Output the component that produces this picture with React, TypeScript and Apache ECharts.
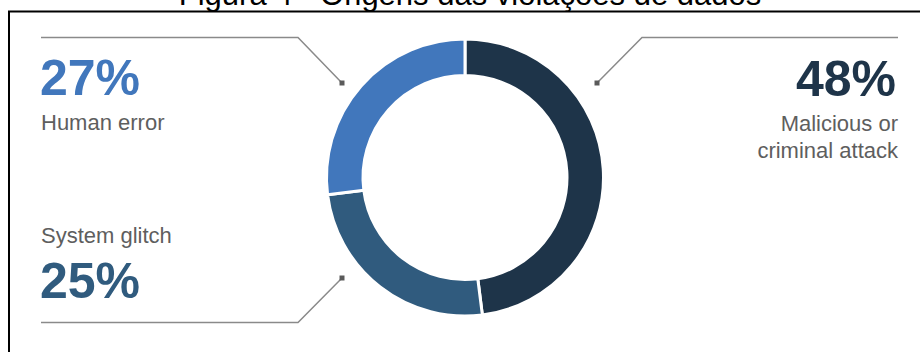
import React, { useEffect, useRef } from "react";
import * as echarts from "echarts";

const title = "Figura 4 - Origens das violações de dados";
const categories = ["Malicious or criminal attack", "System glitch", "Human error"];
const values = [48, 25, 27];
const sliceColors = ["#1e3449", "#305b7e", "#4177bc"];
const labelLines: Record<string, string[]> = {
  "Malicious or criminal attack": ["Malicious or", "criminal attack"],
  "System glitch": ["System glitch"],
  "Human error": ["Human error"],
};

export default function App() {
  const ref = useRef<HTMLDivElement>(null);
  useEffect(() => {
    if (!ref.current) return;
    const chart = echarts.init(ref.current, undefined, { renderer: "svg" });
    const pct = (name: string) => values[categories.indexOf(name)] + "%";
    const col = (name: string) => sliceColors[categories.indexOf(name)];
    const lineColor = "#8a8a8a";
    const markerColor = "#5a5a5a";
    const grey = "#5e5e5e";
    const pctFont = { fontSize: 50, fontWeight: "bold" as const, fontFamily: "Liberation Sans, Arial, sans-serif" };
    const subFont = { fontSize: 22, fontWeight: "normal" as const, fontFamily: "Liberation Sans, Arial, sans-serif" };
    const marker = (x: number, y: number) => ({
      type: "rect",
      shape: { x: x - 2.5, y: y - 2.5, width: 5, height: 5 },
      style: { fill: markerColor },
      z: 10,
    });
    chart.setOption({
      animation: false,
      backgroundColor: "#ffffff",
      series: [
        {
          type: "pie",
          center: [465, 177.5],
          radius: [102, 138.5],
          startAngle: 90,
          clockwise: true,
          label: { show: false },
          labelLine: { show: false },
          emphasis: { disabled: true },
          itemStyle: { borderColor: "#ffffff", borderWidth: 3 },
          data: categories.map((c, i) => ({ name: c, value: values[i], itemStyle: { color: sliceColors[i] } })),
        },
      ],
      graphic: [
        {
          type: "text",
          x: 470,
          y: 10,
          style: {
            text: title,
            fontSize: 31,
            fontFamily: "Liberation Sans, Arial, sans-serif",
            fill: "#000000",
            align: "center",
            verticalAlign: "bottom",
          },
        },
        {
          type: "rect",
          shape: { x: 9, y: 11.5, width: 940, height: 400 },
          style: { fill: "none", stroke: "#000000", lineWidth: 2 },
        },
        // leader lines
        { type: "polyline", shape: { points: [[41, 37.5], [298, 37.5], [342, 83]] }, style: { stroke: lineColor, lineWidth: 1.5, fill: "none" } },
        { type: "polyline", shape: { points: [[597, 83], [642, 37.5], [898, 37.5]] }, style: { stroke: lineColor, lineWidth: 1.5, fill: "none" } },
        { type: "polyline", shape: { points: [[41, 322.5], [298, 322.5], [342, 278]] }, style: { stroke: lineColor, lineWidth: 1.5, fill: "none" } },
        marker(342, 83),
        marker(597, 83),
        marker(342, 278),
        // Human error
        { type: "text", x: 40, y: 78, style: { text: pct("Human error"), ...pctFont, fill: col("Human error"), align: "left", verticalAlign: "middle" } },
        { type: "text", x: 41, y: 122, style: { text: labelLines["Human error"][0], ...subFont, fill: grey, align: "left", verticalAlign: "middle" } },
        // Malicious
        { type: "text", x: 896, y: 79, style: { text: pct("Malicious or criminal attack"), ...pctFont, fill: col("Malicious or criminal attack"), align: "right", verticalAlign: "middle" } },
        { type: "text", x: 898, y: 123, style: { text: labelLines["Malicious or criminal attack"][0], ...subFont, fill: grey, align: "right", verticalAlign: "middle" } },
        { type: "text", x: 898, y: 150, style: { text: labelLines["Malicious or criminal attack"][1], ...subFont, fill: grey, align: "right", verticalAlign: "middle" } },
        // System glitch
        { type: "text", x: 41, y: 235, style: { text: labelLines["System glitch"][0], ...subFont, fill: grey, align: "left", verticalAlign: "middle" } },
        { type: "text", x: 40, y: 280.5, style: { text: pct("System glitch"), ...pctFont, fill: col("System glitch"), align: "left", verticalAlign: "middle" } },
      ],
    });
    return () => chart.dispose();
  }, []);
  return <div ref={ref} style={{ position: "absolute", left: 0, top: 0, width: 920, height: 352 }} />;
}
